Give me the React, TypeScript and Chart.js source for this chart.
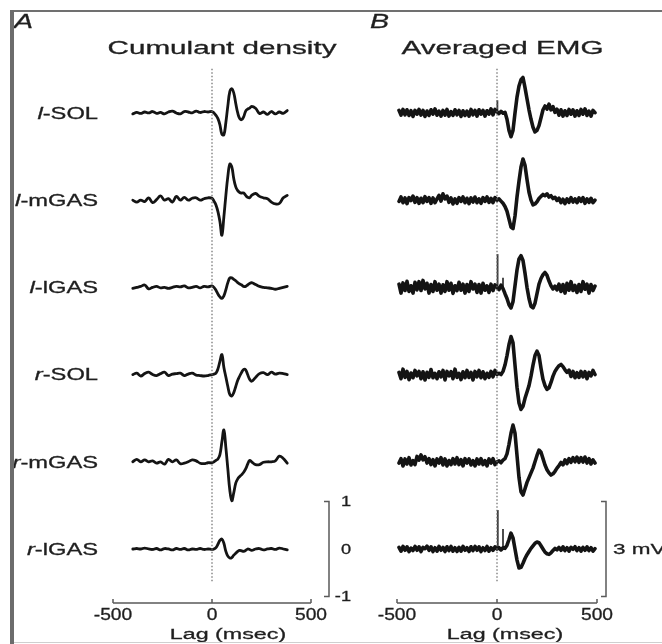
import React, { useEffect, useRef } from 'react';
import { Chart, registerables } from 'chart.js';

Chart.register(...registerables);

// ---------- labels ----------
const ROW_PREFIX = ['l', 'l', 'l', 'r', 'r', 'r'];
const ROW_MUSCLE = ['-SOL', '-mGAS', '-lGAS', '-SOL', '-mGAS', '-lGAS'];
const X_TICKS = [-500, 0, 500];
const SCALE_TICKS_A = [1, 0, -1];
const SCALE_SPAN_B_MV = 3;
const SCALE_LABEL_B = '3 mV';
const TITLE_A = 'Cumulant density';
const TITLE_B = 'Averaged EMG';
const X_TITLE = 'Lag (msec)';

// vertical layout (cumulant units; bottom row baseline = 0)
const ROW_GAP = 1.836;
const Y_RANGE = [-1.137, 10.379];
const ZERO_LINE_RANGE = [-0.68, 10.15];

// ---------- panel A : cumulant density ----------
const LAGS_A = [
  -400, -380, -360, -340, -320, -300, -280, -260, -240, -220,
  -200, -180, -160, -140, -120, -100, -80, -60, -40, -20,
  0, 10, 20, 30, 40, 50, 60, 70, 80, 90, 100, 110, 120, 130, 140, 150, 160, 170, 180, 190, 200,
  220, 240, 260, 280, 300, 320, 340, 360, 380,
];

const CUM_L_SOL = [
  -0.02, 0.01, -0.01, 0.02, 0.0, 0.03, -0.01, 0.01, -0.02, 0.02,
  0.04, 0.0, -0.02, 0.03, 0.02, 0.0, 0.04, 0.01, 0.03, 0.02,
  0.03, 0.0, -0.05, -0.12, -0.25, -0.45, -0.46, -0.2, 0.15, 0.45, 0.51, 0.42, 0.2, 0.0, -0.12, -0.14, -0.08, 0.04, 0.08, 0.1, 0.14,
  0.1, -0.01, 0.02, -0.03, 0.03, -0.02, 0.02, -0.01, 0.05,
];
const CUM_L_MGAS = [
  0.0, -0.04, 0.0, -0.03, 0.05, -0.05, 0.01, 0.09, 0.0, 0.03,
  -0.04, 0.08, 0.0, 0.06, 0.0, 0.04, 0.05, 0.0, 0.03, 0.05,
  0.04, -0.02, -0.1, -0.24, -0.45, -0.74, -0.35, 0.1, 0.5, 0.76, 0.7, 0.45, 0.28, 0.2, 0.16, 0.15, 0.15, 0.1, 0.06, 0.05, 0.1,
  0.14, 0.08, 0.05, 0.03, -0.04, -0.08, -0.07, 0.05, 0.1,
];
const CUM_L_LGAS = [
  -0.02, 0.0, 0.02, 0.05, -0.03, 0.0, 0.02, -0.01, 0.0, -0.02,
  0.0, 0.02, 0.01, 0.03, -0.01, 0.0, 0.02, -0.01, 0.02, 0.01,
  0.03, 0.0, -0.06, -0.14, -0.2, -0.23, -0.18, -0.05, 0.1, 0.2, 0.2, 0.17, 0.14, 0.1, 0.07, 0.05, 0.02, 0.02, 0.05, 0.08, 0.1,
  0.06, 0.02, 0.0, -0.01, -0.02, -0.04, -0.02, 0.0, 0.02,
];
const CUM_R_SOL = [
  0.0, 0.03, -0.03, 0.02, 0.05, 0.0, -0.02, 0.02, 0.05, -0.02,
  0.01, 0.02, 0.03, -0.02, 0.01, 0.03, -0.01, -0.02, -0.03, -0.02,
  0.0, 0.01, 0.03, 0.12, 0.28, 0.42, 0.15, -0.05, -0.25, -0.42, -0.45, -0.38, -0.25, -0.12, -0.03, 0.05, 0.11, 0.1, 0.0, -0.1, -0.14,
  -0.06, 0.02, 0.04, 0.0, 0.05, 0.01, 0.03, 0.02, 0.0,
];
const CUM_R_MGAS = [
  0.0, 0.05, 0.0, 0.04, 0.0, 0.02, -0.03, 0.0, -0.05, 0.05,
  0.0, 0.04, -0.04, -0.03, 0.0, 0.04, 0.02, -0.03, -0.04, -0.02,
  -0.02, 0.0, 0.03, 0.06, 0.15, 0.42, 0.67, 0.3, -0.15, -0.6, -0.82, -0.65, -0.45, -0.36, -0.31, -0.27, -0.22, -0.15, -0.05, 0.03, 0.0,
  -0.06, -0.06, -0.01, 0.0, 0.0, 0.02, 0.12, 0.07, -0.03,
];
const CUM_R_LGAS = [
  0.0, 0.01, 0.0, 0.02, 0.0, -0.01, 0.01, -0.02, 0.01, 0.0,
  -0.02, 0.01, -0.01, 0.01, -0.02, 0.0, -0.01, 0.01, -0.01, 0.0,
  -0.01, 0.0, 0.03, 0.1, 0.18, 0.21, 0.12, -0.05, -0.15, -0.19, -0.18, -0.13, -0.09, -0.05, -0.03, -0.04, -0.05, -0.03, 0.0, -0.01, -0.03,
  0.0, 0.01, -0.02, 0.0, 0.01, -0.01, 0.02, 0.0, -0.02,
];
const CUMULANTS = [CUM_L_SOL, CUM_L_MGAS, CUM_L_LGAS, CUM_R_SOL, CUM_R_MGAS, CUM_R_LGAS];

// ---------- panel B : averaged EMG (mV) ----------
const LAGS_B = [
  -490, -480, -470, -460, -450, -440, -430, -420, -410, -400,
  -390, -380, -370, -360, -350, -340, -330, -320, -310, -300,
  -290, -280, -270, -260, -250, -240, -230, -220, -210, -200,
  -190, -180, -170, -160, -150, -140, -130, -120, -110, -100,
  -90, -80, -70, -60, -50, -40, -30, -20, -10, 0,
  10, 20, 30, 40, 50, 60, 70, 80, 90, 100,
  110, 120, 130, 140, 150, 160, 170, 180, 190, 200,
  210, 220, 230, 240, 250, 260, 270, 280, 290, 300,
  310, 320, 330, 340, 350, 360, 370, 380, 390, 400,
  410, 420, 430, 440, 450, 460, 470, 480, 490,
];

const EMG_L_SOL = [
  0.08, -0.07, 0.11, -0.06, 0.1, -0.08, 0.07, -0.11, 0.08, -0.04,
  0.11, -0.07, 0.08, -0.11, 0.06, -0.08, 0.1, -0.04, 0.13, -0.07,
  0.06, -0.1, 0.08, -0.07, 0.11, -0.1, 0.04, -0.08, 0.1, -0.06,
  0.08, -0.11, 0.07, -0.08, 0.06, -0.1, 0.11, -0.06, 0.08, -0.1,
  0.1, -0.04, 0.08, -0.1, 0.07, -0.04, 0.13, -0.06, 0.11, 0.04,
  -0.02, 0.05, -0.01, 0.02, -0.2, -0.55, -0.75, -0.55, 0.0, 0.5,
  0.85, 1.05, 1.12, 0.8, 0.45, 0.1, -0.2, -0.45, -0.6, -0.55,
  -0.4, -0.15, 0.1, 0.22, 0.12, 0.28, 0.1, 0.2, 0.02, 0.12,
  -0.07, 0.1, -0.1, 0.07, -0.08, 0.11, -0.04, 0.1, -0.1, 0.07,
  -0.08, 0.11, -0.04, 0.13, -0.08, 0.06, -0.1, 0.08, 0.01,
];
const EMG_L_MGAS = [
  -0.04, 0.1, -0.08, 0.07, -0.11, 0.08, -0.01, 0.13, -0.07, 0.08,
  -0.1, 0.06, -0.08, 0.11, -0.04, 0.08, -0.1, 0.07, -0.08, 0.04,
  0.15, -0.03, 0.2, 0.04, 0.13, -0.07, 0.07, -0.12, 0.04, -0.1,
  0.08, -0.04, 0.1, -0.08, 0.06, -0.11, 0.07, -0.06, 0.1, -0.08,
  0.04, -0.1, 0.08, -0.04, 0.1, -0.07, 0.06, -0.08, 0.08, 0.0,
  0.04, -0.03, -0.1, -0.2, -0.35, -0.6, -0.85, -0.9, -0.5, 0.1,
  0.6, 1.05, 1.3, 1.1, 0.65, 0.25, 0.0, -0.15, -0.12, -0.05,
  0.05, 0.12, 0.18, 0.14, 0.2, 0.1, 0.14, 0.05, 0.09, -0.01,
  0.06, -0.08, 0.03, -0.11, 0.04, -0.07, 0.08, -0.06, 0.04, -0.08,
  0.07, -0.04, 0.08, -0.1, 0.04, -0.07, 0.06, -0.08, 0.0,
];
const EMG_L_LGAS = [
  0.1, -0.18, 0.14, -0.1, 0.19, -0.13, 0.05, -0.18, 0.16, -0.08,
  0.18, -0.1, 0.22, -0.05, 0.13, -0.18, 0.09, -0.13, 0.18, -0.09,
  0.1, -0.18, 0.08, -0.13, 0.18, -0.09, 0.13, -0.19, 0.05, -0.1,
  0.16, -0.09, 0.1, -0.18, 0.09, -0.13, 0.18, -0.05, 0.1, -0.16,
  0.09, -0.18, 0.13, -0.09, 0.05, -0.16, 0.1, -0.1, 0.08, 0.0,
  -0.07, 0.07, -0.04, -0.2, -0.35, -0.55, -0.65, -0.45, 0.05, 0.55,
  0.9, 1.0, 0.85, 0.45, 0.0, -0.35, -0.6, -0.65, -0.5, -0.2,
  0.1, 0.28, 0.4, 0.47, 0.38, 0.2, 0.05, -0.05, 0.04, -0.08,
  0.1, -0.13, 0.09, -0.18, 0.13, -0.09, 0.18, -0.1, 0.06, -0.16,
  0.09, -0.13, 0.18, -0.06, 0.1, -0.18, 0.09, -0.1, 0.04,
];
const EMG_R_SOL = [
  0.07, -0.13, 0.17, -0.09, 0.1, -0.16, 0.05, -0.1, 0.13, -0.04,
  0.1, -0.13, 0.09, -0.17, 0.07, -0.09, 0.16, -0.1, 0.04, -0.13,
  0.09, -0.07, 0.13, -0.17, 0.1, -0.04, 0.09, -0.13, 0.17, -0.09,
  0.04, -0.16, 0.09, -0.1, 0.13, -0.09, 0.07, -0.17, 0.1, -0.07,
  0.13, -0.1, 0.09, -0.13, 0.04, -0.09, 0.1, -0.07, 0.13, 0.0,
  0.04, 0.0, 0.1, 0.3, 0.6, 0.95, 1.2, 1.0, 0.3, -0.4,
  -0.9, -1.1, -1.0, -0.75, -0.55, -0.35, -0.05, 0.3, 0.6, 0.74,
  0.6, 0.2, -0.15, -0.35, -0.47, -0.42, -0.25, -0.05, 0.1, 0.2,
  0.28, 0.32, 0.25, 0.15, 0.07, 0.14, -0.06, 0.1, -0.1, 0.06,
  -0.09, 0.1, -0.07, 0.09, -0.13, 0.07, -0.04, 0.13, 0.0,
];
const EMG_R_MGAS = [
  -0.04, 0.1, -0.13, 0.09, -0.07, 0.13, -0.1, 0.04, -0.09, 0.17,
  0.05, 0.22, 0.06, 0.16, -0.04, 0.1, -0.09, 0.07, -0.13, 0.09,
  -0.04, 0.13, -0.1, 0.09, -0.13, 0.04, -0.09, 0.1, -0.07, 0.13,
  -0.09, 0.07, -0.13, 0.1, -0.04, 0.09, -0.1, 0.04, -0.13, 0.09,
  -0.07, 0.1, -0.09, 0.04, -0.13, 0.09, -0.04, 0.1, -0.09, 0.0,
  0.03, -0.03, 0.05, 0.1, 0.25, 0.55, 0.9, 1.16, 0.9, 0.2,
  -0.5, -0.95, -1.05, -0.85, -0.65, -0.5, -0.35, -0.2, 0.0, 0.2,
  0.37, 0.3, 0.1, -0.1, -0.25, -0.35, -0.42, -0.38, -0.3, -0.2,
  -0.12, -0.02, -0.1, 0.06, -0.06, 0.1, -0.02, 0.13, 0.0, 0.15,
  -0.02, 0.13, -0.01, 0.15, -0.04, 0.1, -0.07, 0.06, -0.04,
];
const EMG_R_LGAS = [
  0.05, -0.07, 0.08, -0.04, 0.07, -0.08, 0.03, -0.05, 0.08, -0.04,
  0.07, -0.08, 0.05, 0.01, 0.09, -0.04, 0.07, -0.08, 0.04, -0.07,
  0.08, -0.04, 0.05, -0.08, 0.07, -0.05, 0.08, -0.07, 0.04, -0.08,
  0.05, -0.07, 0.08, -0.04, 0.04, -0.08, 0.07, -0.05, 0.08, -0.04,
  0.07, -0.08, 0.04, -0.05, 0.08, -0.07, 0.04, -0.04, 0.07, 0.0,
  0.04, -0.03, 0.04, 0.02, 0.12, 0.3, 0.5, 0.35, 0.0, -0.35,
  -0.6, -0.58, -0.45, -0.3, -0.18, -0.08, 0.02, 0.1, 0.18, 0.22,
  0.2, 0.1, 0.0, -0.1, -0.15, -0.17, -0.12, -0.05, 0.02, -0.03,
  0.05, -0.04, 0.07, -0.05, 0.04, -0.07, 0.05, -0.01, 0.07, -0.05,
  0.04, -0.07, 0.05, -0.04, 0.07, -0.05, 0.04, -0.07, 0.01,
];
const EMGS = [EMG_L_SOL, EMG_L_MGAS, EMG_L_LGAS, EMG_R_SOL, EMG_R_MGAS, EMG_R_LGAS];

// stimulus artefacts in the EMG averages: [lag ms, height mV] per row
const ARTEFACTS_B = [
  [[2, 0.4]],
  [],
  [[3, 1.05], [30, 0.3]],
  [],
  [],
  [[4, 1.23], [30, 0.63]],
];

// ---------- drawing helpers ----------
const FONT = '"Liberation Sans", Arial, Helvetica, sans-serif';
const INK = '#1f1f1f';
const AXIS_INK = '#5a5a5a';

function drawText(ctx, text, x, y, size, sx, align, italic = false) {
  ctx.save();
  ctx.font = `${italic ? 'italic ' : ''}${size}px ${FONT}`;
  const w = ctx.measureText(text).width * sx;
  const left = align === 'center' ? x - w / 2 : align === 'right' ? x - w : x;
  ctx.translate(left, y);
  ctx.scale(sx, 1);
  ctx.fillStyle = INK;
  ctx.strokeStyle = INK;
  ctx.lineWidth = 0.3;
  ctx.textAlign = 'left';
  ctx.textBaseline = 'alphabetic';
  ctx.fillText(text, 0, 0);
  ctx.strokeText(text, 0, 0);
  ctx.restore();
  return w;
}

function makeDecor(cfg) {
  return {
    id: 'decor' + cfg.letter,
    afterDraw(chart) {
      const { ctx, chartArea: a, scales } = chart;
      const xs = scales.x;
      const ys = scales.y;
      const cx = (a.left + a.right) / 2;
      ctx.save();
      // x axis with inward ticks
      const yb = a.bottom;
      ctx.strokeStyle = AXIS_INK;
      ctx.lineWidth = 1.5;
      ctx.beginPath();
      ctx.moveTo(xs.getPixelForValue(X_TICKS[0]), yb);
      ctx.lineTo(xs.getPixelForValue(X_TICKS[X_TICKS.length - 1]), yb);
      X_TICKS.forEach((t) => {
        const px = xs.getPixelForValue(t);
        ctx.moveTo(px, yb);
        ctx.lineTo(px, yb - 4);
      });
      ctx.stroke();
      X_TICKS.forEach((t) => drawText(ctx, String(t), xs.getPixelForValue(t), yb + 17, 16, 1.2, 'center'));
      drawText(ctx, X_TITLE, cx + cfg.axisTitleDx, yb + 36, 15.5, 1.5, 'center');
      // titles
      drawText(ctx, cfg.title, cx + cfg.titleDx, 54, 19, 1.56, 'center');
      drawText(ctx, cfg.letter, a.left + cfg.letterDx, 28, 21, 1.36, 'left', true);
      // row labels
      if (cfg.rowLabels) {
        ROW_MUSCLE.forEach((m, r) => {
          const py = ys.getPixelForValue((5 - r) * cfg.gap) + 5.8;
          const right = a.left - 15;
          const w = drawText(ctx, m, right, py, 16, 1.48, 'right');
          drawText(ctx, ROW_PREFIX[r], right - w, py, 16, 1.48, 'right', true);
        });
      }
      // scale bar (bottom row)
      const bx = a.right + cfg.barDx;
      const yTop = ys.getPixelForValue(cfg.barHalf);
      const yBot = ys.getPixelForValue(-cfg.barHalf);
      ctx.strokeStyle = AXIS_INK;
      ctx.lineWidth = 1.5;
      ctx.beginPath();
      ctx.moveTo(bx - 5, yTop);
      ctx.lineTo(bx, yTop);
      ctx.lineTo(bx, yBot);
      ctx.lineTo(bx - 5, yBot);
      ctx.stroke();
      if (cfg.barTicks) {
        cfg.barTicks.forEach((t) =>
          drawText(ctx, String(t), a.right + cfg.barLabelDx, ys.getPixelForValue(t) + 5, 14, 1.3, 'right'));
      } else {
        drawText(ctx, cfg.barLabel, a.right + cfg.barLabelDx, ys.getPixelForValue(0) + 5, 15, 1.5, 'left');
      }
      ctx.restore();
    },
  };
}

function buildDatasets(lags, series, gap, lineWidth, tension, zeroRange, artefacts) {
  const ds = [];
  ds.push({
    data: [{ x: 0, y: zeroRange[0] }, { x: 0, y: zeroRange[1] }],
    borderColor: '#6a6a6a',
    borderWidth: 1.2,
    borderDash: [1.5, 2],
    pointRadius: 0,
    tension: 0,
  });
  series.forEach((vals, r) => {
    const off = (5 - r) * gap;
    ds.push({
      data: lags.map((x, i) => ({ x, y: vals[i] + off })),
      borderColor: '#141414',
      borderWidth: lineWidth,
      pointRadius: 0,
      tension,
      borderJoinStyle: 'round',
      borderCapStyle: 'round',
    });
    if (artefacts) {
      artefacts[r].forEach(([lag, h]) => {
        ds.push({
          data: [{ x: lag, y: off }, { x: lag, y: off + h }],
          borderColor: '#3a3a3a',
          borderWidth: 1.8,
          pointRadius: 0,
          tension: 0,
        });
      });
    }
  });
  return ds;
}

function Panel({ left, width, padLeft, padRight, yScale, datasets, decor }) {
  const ref = useRef(null);
  useEffect(() => {
    const chart = new Chart(ref.current, {
      type: 'line',
      data: { datasets },
      options: {
        responsive: false,
        animation: false,
        events: [],
        layout: { padding: { left: padLeft, right: padRight, top: 56, bottom: 41 } },
        plugins: { legend: { display: false }, title: { display: false }, tooltip: { enabled: false } },
        scales: {
          x: { type: 'linear', display: false, min: X_TICKS[0], max: X_TICKS[X_TICKS.length - 1] },
          y: { type: 'linear', display: false, min: yScale[0], max: yScale[1] },
        },
      },
      plugins: [decor],
    });
    return () => chart.destroy();
  }, []);
  return (
    <canvas
      ref={ref}
      width={width}
      height={644}
      style={{ position: 'absolute', left, top: 0, width, height: 644 }}
    />
  );
}

export default function App() {
  const mv = SCALE_SPAN_B_MV / 2;
  const dsA = buildDatasets(LAGS_A, CUMULANTS, ROW_GAP, 2.8, 0.4, ZERO_LINE_RANGE, null);
  const dsB = buildDatasets(
    LAGS_B, EMGS, ROW_GAP * mv, 3.6, 0,
    [ZERO_LINE_RANGE[0] * mv, ZERO_LINE_RANGE[1] * mv], ARTEFACTS_B,
  );
  const decorA = makeDecor({
    letter: 'A', letterDx: -99, title: TITLE_A, titleDx: 10, axisTitleDx: 16,
    rowLabels: true, gap: ROW_GAP, barDx: 18, barHalf: 1, barTicks: SCALE_TICKS_A, barLabelDx: 40,
  });
  const decorB = makeDecor({
    letter: 'B', letterDx: -27, title: TITLE_B, titleDx: 5.5, axisTitleDx: 8,
    rowLabels: false, gap: ROW_GAP * mv, barDx: 9, barHalf: mv, barTicks: null, barLabel: SCALE_LABEL_B, barLabelDx: 16,
  });
  return (
    <div style={{ position: 'absolute', left: 0, top: 0, width: 662, height: 644, background: '#fff', overflow: 'hidden' }}>
      <Panel left={0} width={362} padLeft={113} padRight={51}
        yScale={Y_RANGE} datasets={dsA} decor={decorA} />
      <Panel left={362} width={300} padLeft={35} padRight={65}
        yScale={[Y_RANGE[0] * mv, Y_RANGE[1] * mv]} datasets={dsB} decor={decorB} />
      <div style={{ position: 'absolute', left: 11, top: 10, right: 0, height: 2, background: '#707070' }} />
      <div style={{ position: 'absolute', left: 10, top: 10, width: 4, bottom: 0, background: '#6c6c6c' }} />
      <div style={{ position: 'absolute', left: 14, top: 642, right: 0, height: 1, background: '#cfcfcf' }} />
    </div>
  );
}
